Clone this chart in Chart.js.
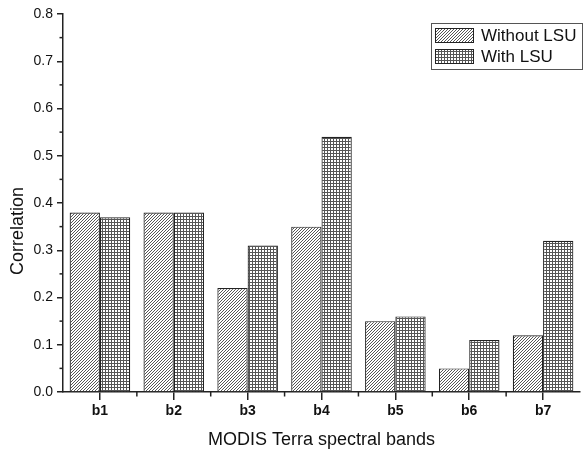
<!DOCTYPE html>
<html><head><meta charset="utf-8">
<script src="https://cdn.jsdelivr.net/npm/chart.js@4/dist/chart.umd.min.js"></script>
<style>html,body{margin:0;padding:0;background:#fff}#wrap{width:584px;height:452px;position:relative}</style>
</head><body><div id="wrap"><canvas id="c" width="584" height="452"></canvas></div>
<script>
const categories = ['b1','b2','b3','b4','b5','b6','b7'];
const seriesNames = ['Without LSU','With LSU'];
const withoutLSU = [0.38,0.38,0.22,0.35,0.15,0.05,0.12];
const withLSU = [0.37,0.38,0.31,0.54,0.16,0.11,0.32];
const yMin = 0, yMax = 0.8, yStep = 0.1;
const xTitle = 'MODIS Terra spectral bands';
const yTitle = 'Correlation';

const FONT = "'Liberation Sans', Arial, sans-serif";
const canvas = document.getElementById('c');
const mainCtx = canvas.getContext('2d');

function hatchPattern(){
  const c = document.createElement('canvas'); c.width = 3; c.height = 3;
  const g = c.getContext('2d');
  g.fillStyle = '#fff'; g.fillRect(0,0,3,3);
  g.fillStyle = '#555';
  for (let i=0;i<3;i++) g.fillRect(i,2-i,1,1);
  return mainCtx.createPattern(c,'repeat');
}
function gridPattern(){
  const c = document.createElement('canvas'); c.width = 3; c.height = 3;
  const g = c.getContext('2d');
  g.fillStyle = '#fff'; g.fillRect(0,0,3,3);
  g.fillStyle = '#555';
  g.fillRect(0,0,3,1); g.fillRect(0,0,1,3);
  return mainCtx.createPattern(c,'repeat');
}
const patterns = [hatchPattern(), gridPattern()];
const AX = '#222';

const extras = {
  id: 'extras',
  afterDraw(chart){
    const ctx = chart.ctx, xs = chart.scales.x, ys = chart.scales.y;
    ctx.save();
    ctx.strokeStyle = AX; ctx.lineWidth = 1.5;
    for (let k=0; k<Math.round((yMax-yMin)/yStep); k++){
      const py = ys.getPixelForValue(yMin + yStep*k + yStep/2);
      ctx.beginPath(); ctx.moveTo(ys.right, py); ctx.lineTo(ys.right-3.5, py); ctx.stroke();
    }
    for (let i=0;i<categories.length-1;i++){
      const px = (xs.getPixelForValue(i)+xs.getPixelForValue(i+1))/2;
      ctx.beginPath(); ctx.moveTo(px, xs.top); ctx.lineTo(px, xs.top+4.5); ctx.stroke();
    }
    ctx.fillStyle = '#111';
    ctx.font = '18px ' + FONT;
    ctx.textAlign = 'center'; ctx.textBaseline = 'middle';
    ctx.translate(18, 231); ctx.rotate(-Math.PI/2);
    ctx.fillText(yTitle, 0, 0);
    ctx.restore();
    ctx.save();
    ctx.fillStyle = '#fff';
    ctx.fillRect(431.5, 23.5, 151, 46);
    ctx.strokeStyle = '#555'; ctx.lineWidth = 1;
    ctx.strokeRect(431.5, 23.5, 151, 46);
    const rows = [28, 49];
    ctx.font = '17px ' + FONT; ctx.textAlign = 'left'; ctx.textBaseline = 'middle';
    for (let i=0;i<seriesNames.length;i++){
      ctx.fillStyle = patterns[i];
      ctx.fillRect(435, rows[i], 39, 15);
      ctx.strokeStyle = '#222'; ctx.strokeRect(435.5, rows[i]+0.5, 38, 14);
      ctx.fillStyle = '#111';
      ctx.fillText(seriesNames[i], 481, rows[i]+8);
    }
    ctx.restore();
  }
};

new Chart(canvas, {
  type: 'bar',
  data: {
    labels: categories,
    datasets: [
      {label: seriesNames[0], data: withoutLSU, backgroundColor: patterns[0], borderColor: '#222', borderWidth: 1.2, categoryPercentage: 0.82, barPercentage: 1},
      {label: seriesNames[1], data: withLSU, backgroundColor: patterns[1], borderColor: '#222', borderWidth: 1.2, categoryPercentage: 0.82, barPercentage: 1}
    ]
  },
  options: {
    responsive: false, animation: false,
    layout: {padding: {top: 14, right: 4, left: 0, bottom: 0}},
    plugins: {legend: {display: false}, tooltip: {enabled: false}},
    scales: {
      x: {
        grid: {display: true, drawOnChartArea: false, offset: false, tickLength: 8, color: AX, lineWidth: 1.5},
        border: {display: true, color: AX, width: 1.5},
        ticks: {color: '#111', font: {family: FONT, size: 14, weight: 'bold'}, padding: 3, maxRotation: 0},
        title: {display: true, text: xTitle, color: '#111', font: {family: FONT, size: 18}, padding: {top: 0, bottom: 1}},
        afterFit(s){ s.height = 60; }
      },
      y: {
        min: yMin, max: yMax,
        grid: {display: true, drawOnChartArea: false, tickLength: 6, color: AX, lineWidth: 1.5},
        border: {display: true, color: AX, width: 1.5},
        ticks: {stepSize: yStep, color: '#111', font: {family: FONT, size: 14}, padding: 4, callback: v => Number(v).toFixed(1)},
        afterFit(s){ s.width = 63; }
      }
    }
  },
  plugins: [extras]
});
</script>
</body></html>
